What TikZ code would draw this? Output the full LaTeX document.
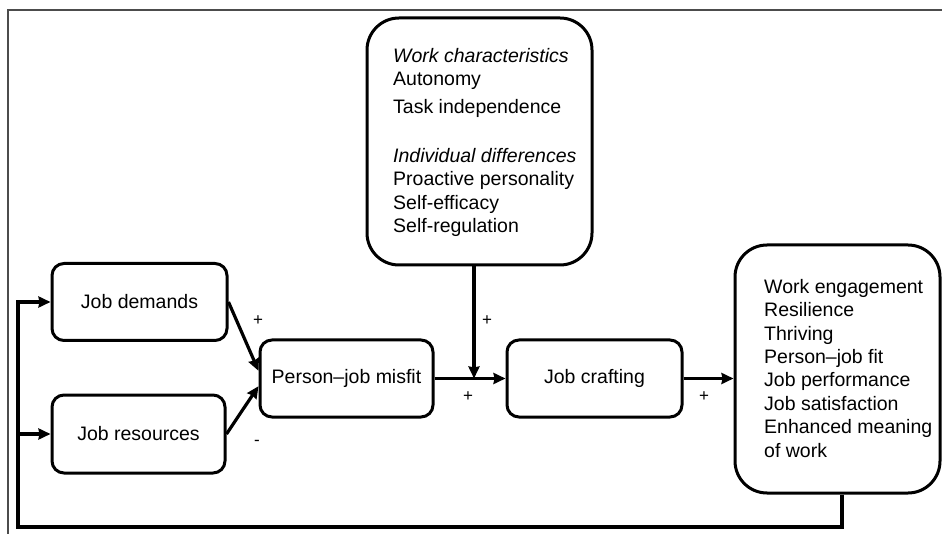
\documentclass[tikz,border=0pt]{standalone}
\usepackage{fontspec}
\setmainfont{Liberation Sans}
\usetikzlibrary{arrows.meta}
\usetikzlibrary{positioning}

\tikzset{
  box/.style={draw=black, line width=3pt, rounded corners=12pt, align=center, inner sep=0pt},
  bigbox/.style={draw=black, line width=3pt, rounded corners=32pt, inner sep=0pt},
  listtext/.style={anchor=north west, inner sep=0pt, align=left},
  flowarrow/.style={draw=black, line width=3.2pt, -{Stealth[slant=0, length=12pt, width=11pt, inset=1pt]}},
  sign/.style={font=\fontsize{17}{20}\selectfont, inner sep=0pt},
  frameline/.style={draw=black!70, line width=1.3pt}
}

\begin{document}
\begin{tikzpicture}[x=1pt, y=-1pt, font=\fontsize{19.5}{23.4}\selectfont]
        \useasboundingbox (0,0) rectangle (942,534);

        % outer frame
        \draw[frameline] (8,534) -- (8,10) -- (942,10);

        \node[box, minimum width=175pt, minimum height=77pt] at (139.5,302) (demands) {Job demands};
        \node[box, minimum width=173pt, minimum height=78pt] at (138.5,434) (resources) {Job resources};
        \node[box, minimum width=173pt, minimum height=77pt] at (346.5,378.5) (misfit) {Person--job misfit};
        \node[box, minimum width=175pt, minimum height=77pt] at (594.5,378.5) (crafting) {Job crafting};

        % moderators box
        \node[bigbox, minimum width=225pt, minimum height=247pt] at (479.5,141.5) (moderators) {};
        \node[listtext] at (393,48) (moderatorstext) {\textit{Work characteristics}\\
                Autonomy\\[4pt]
                Task independence\\[26pt]
                \textit{Individual differences}\\
                Proactive personality\\
                Self-efficacy\\
                Self-regulation};

        % outcomes box
        \node[bigbox, minimum width=205pt, minimum height=248pt] at (837.5,369) (outcomes) {};
        \node[listtext] at (764,279) (outcomestext) {Work engagement\\
                Resilience\\
                Thriving\\
                Person--job fit\\
                Job performance\\
                Job satisfaction\\
                Enhanced meaning\\
                of work};

        % demands and resources into misfit
        \draw[flowarrow] (demands.east) -- (misfit.175);
        \draw[flowarrow] (resources.east) -- (misfit.185);

        % misfit to crafting, moderated from above
        \coordinate (join) at (474,0);
        \draw[flowarrow] (misfit.east) -- (crafting.west);
        \draw[flowarrow] (moderators.south -| join) -- (join |- misfit.east);

        % crafting to outcomes
        \draw[flowarrow] (crafting.east) -- (outcomes.west |- crafting.east);

        % feedback loop
        \coordinate (loopR) at (842,527);
        \coordinate (loopL) at (18,527);
        \draw[flowarrow] (outcomes.south -| loopR) -- (loopR) -- (loopL) |- (demands.west);
        \draw[flowarrow] (loopL |- resources.west) -- (resources.west);

        \node[sign] at (258,321) (plusdemands) {+};
        \node[sign] at (257,443) (minusresources) {-};
        \node[sign] at (487,321) (plusmoderators) {+};
        \node[sign] at (468,397) (plusmisfit) {+};
        \node[sign] at (704,397) (pluscrafting) {+};
\end{tikzpicture}
\end{document}
